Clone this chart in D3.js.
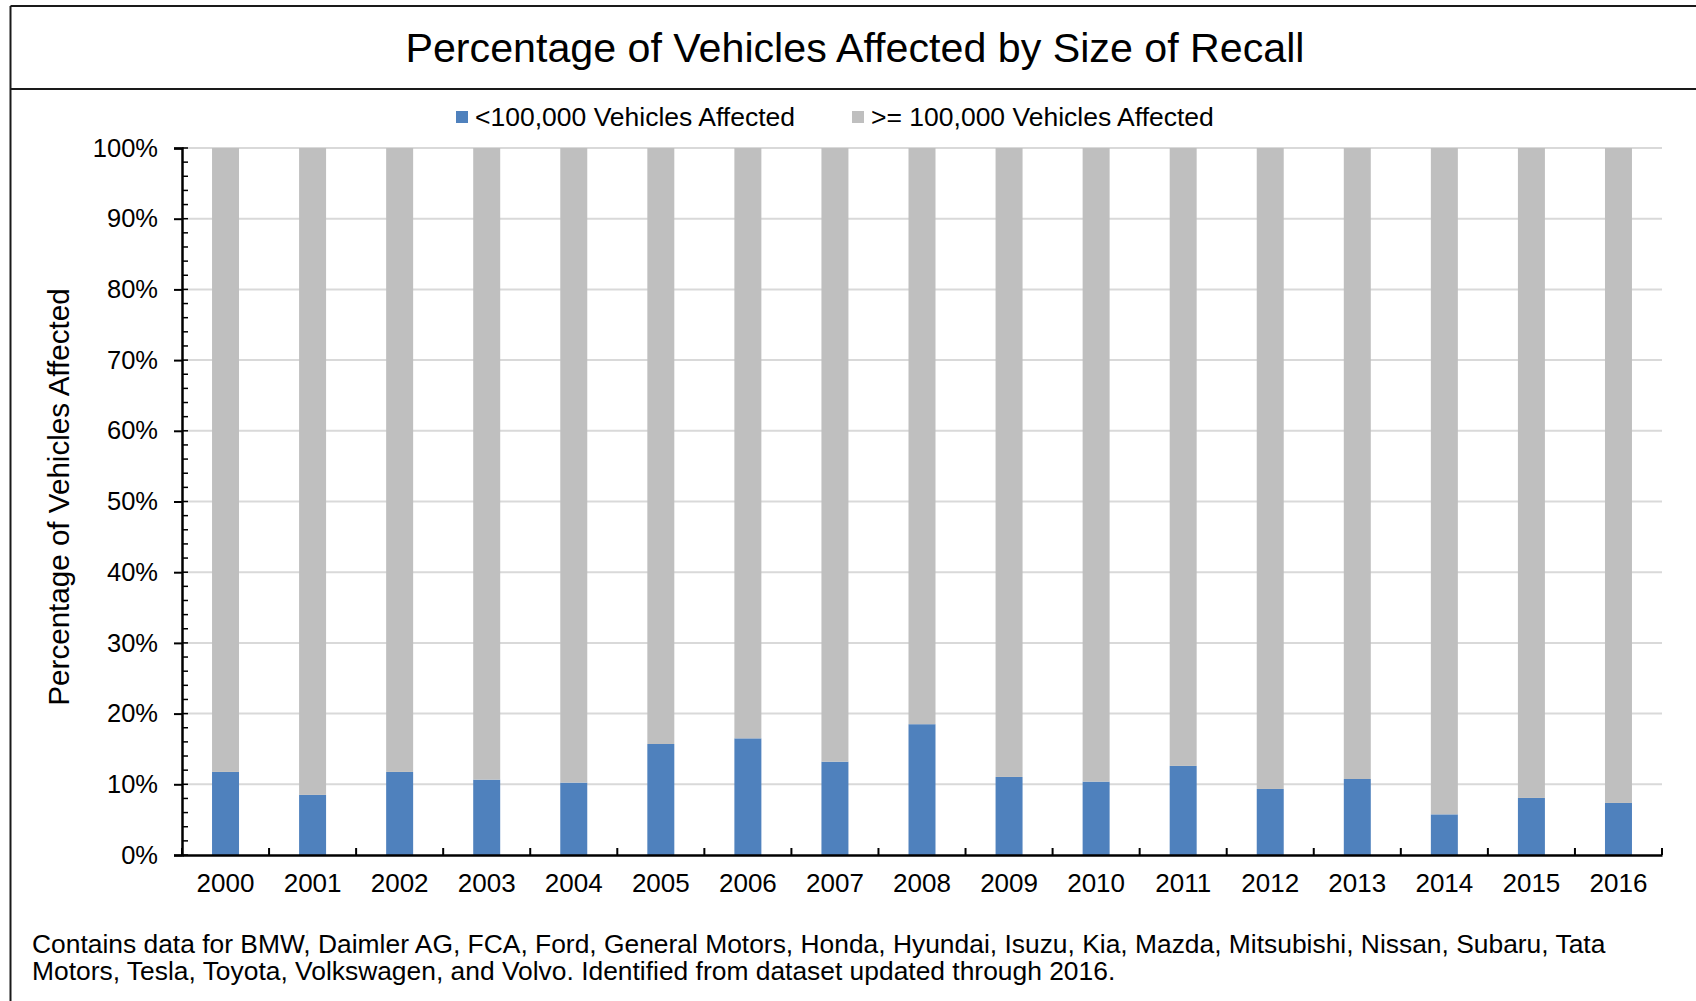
<!DOCTYPE html>
<html>
<head>
<meta charset="utf-8">
<script src="https://cdn.jsdelivr.net/npm/d3@7"></script>
<style>
  html, body { margin: 0; padding: 0; background: #fff; }
  svg { display: block; font-family: "Liberation Sans", Arial, sans-serif; }
</style>
</head>
<body>
<svg id="chart" width="1696" height="1001"></svg>
<script>
// Data
const years = ["2000", "2001", "2002", "2003", "2004", "2005", "2006", "2007", "2008",
  "2009", "2010", "2011", "2012", "2013", "2014", "2015", "2016"];
// share of vehicles in recalls of < 100,000 vehicles
const smallRecall = [0.1175, 0.085, 0.1175, 0.1066, 0.1024, 0.157, 0.165, 0.132, 0.185,
  0.1104, 0.1038, 0.126, 0.0934, 0.1075, 0.0575, 0.0807, 0.0736];
// share of vehicles in recalls of >= 100,000 vehicles
const largeRecall = smallRecall.map((v) => 1 - v);
const seriesNames = ["<100,000 Vehicles Affected", ">= 100,000 Vehicles Affected"];
const yTicks = [0, 0.1, 0.2, 0.3, 0.4, 0.5, 0.6, 0.7, 0.8, 0.9, 1];
const footnote = [
  "Contains data for BMW, Daimler AG, FCA, Ford, General Motors, Honda, Hyundai, Isuzu, Kia, Mazda, Mitsubishi, Nissan, Subaru, Tata",
  "Motors, Tesla, Toyota, Volkswagen, and Volvo. Identified from dataset updated through 2016."
];

const colors = ["#4f81bd", "#bfbfbf"];
const svg = d3.select("#chart");

const plot = { left: 182, right: 1662, top: 148, bottom: 855 };

const x = d3.scaleBand()
  .domain(years)
  .range([plot.left, plot.right])
  .paddingInner(0.69)
  .paddingOuter(0.345);

const y = d3.scaleLinear().domain([0, 1]).range([plot.bottom, plot.top]);

// frame lines
svg.append("line").attr("x1", 10.5).attr("x2", 1696).attr("y1", 6).attr("y2", 6)
  .attr("stroke", "#1a1a1a").attr("stroke-width", 2);
svg.append("line").attr("x1", 10.5).attr("x2", 1696).attr("y1", 89).attr("y2", 89)
  .attr("stroke", "#1a1a1a").attr("stroke-width", 2);
svg.append("line").attr("x1", 10.5).attr("x2", 10.5).attr("y1", 6).attr("y2", 1001)
  .attr("stroke", "#1a1a1a").attr("stroke-width", 2);

// title
svg.append("text")
  .attr("x", 855).attr("y", 62)
  .attr("text-anchor", "middle")
  .style("font-size", "41.2px")
  .attr("fill", "#000")
  .text("Percentage of Vehicles Affected by Size of Recall");

// legend
const legendPos = [456, 852];
const legend = svg.append("g").selectAll("g")
  .data(seriesNames)
  .enter()
  .append("g");
legend.append("rect")
  .attr("x", (d, i) => legendPos[i])
  .attr("y", 111)
  .attr("width", 12).attr("height", 12)
  .attr("fill", (d, i) => colors[i]);
legend.append("text")
  .attr("x", (d, i) => legendPos[i] + 19)
  .attr("y", 126)
  .style("font-size", "26.5px")
  .text((d) => d);

// gridlines
svg.append("g").selectAll("line")
  .data(yTicks.slice(1))
  .enter()
  .append("line")
  .attr("x1", plot.left).attr("x2", plot.right)
  .attr("y1", (d) => y(d)).attr("y2", (d) => y(d))
  .attr("stroke", "#d9d9d9").attr("stroke-width", 2);

// stacked bars
const rows = years.map((yr, i) => ({ year: yr, small: smallRecall[i], large: largeRecall[i] }));
const stacked = d3.stack().keys(["small", "large"])(rows);

svg.append("g").selectAll("g")
  .data(stacked)
  .enter()
  .append("g")
  .attr("fill", (d, i) => colors[i])
  .selectAll("rect")
  .data((d) => d)
  .enter()
  .append("rect")
  .attr("x", (d) => x(d.data.year))
  .attr("width", x.bandwidth())
  .attr("y", (d) => y(d[1]))
  .attr("height", (d) => y(d[0]) - y(d[1]));

// y axis
const yAxis = d3.axisLeft(y)
  .tickValues(yTicks)
  .tickFormat(d3.format(".0%"))
  .tickSize(8)
  .tickPadding(16);
const yG = svg.append("g")
  .attr("transform", `translate(${plot.left},0)`)
  .call(yAxis);
yG.select(".domain").attr("stroke", "#000").attr("stroke-width", 2.5);
yG.selectAll(".tick line").attr("stroke", "#000").attr("stroke-width", 2);
yG.selectAll(".tick text")
  .attr("fill", "#000")
  .style("font-size", "25.5px")
  .style("font-family", '"Liberation Sans", Arial, sans-serif');

// minor ticks on the inside, every 2%
const minor = d3.range(0, 51).map((d) => d / 50);
svg.append("g").selectAll("line")
  .data(minor)
  .enter()
  .append("line")
  .attr("x1", plot.left).attr("x2", plot.left + 6)
  .attr("y1", (d) => y(d)).attr("y2", (d) => y(d))
  .attr("stroke", "#000").attr("stroke-width", 1.5);

// x axis
const xAxis = d3.axisBottom(x).tickSize(0).tickPadding(18.5);
const xG = svg.append("g")
  .attr("transform", `translate(0,${plot.bottom})`)
  .call(xAxis);
xG.select(".domain").attr("stroke", "#000").attr("stroke-width", 2.5);
xG.selectAll(".tick text")
  .attr("fill", "#000")
  .style("font-size", "26px")
  .style("font-family", '"Liberation Sans", Arial, sans-serif');

// category boundary ticks pointing up
const step = x.step();
svg.append("g").selectAll("line")
  .data(d3.range(0, years.length + 1))
  .enter()
  .append("line")
  .attr("x1", (i) => plot.left + i * step).attr("x2", (i) => plot.left + i * step)
  .attr("y1", plot.bottom).attr("y2", plot.bottom - 7)
  .attr("stroke", "#000").attr("stroke-width", 2);

// y axis title
svg.append("text")
  .attr("transform", "translate(69,497) rotate(-90)")
  .attr("text-anchor", "middle")
  .style("font-size", "29.6px")
  .text("Percentage of Vehicles Affected");

// footnote
svg.append("g").selectAll("text")
  .data(footnote)
  .enter()
  .append("text")
  .attr("x", 32)
  .attr("y", (d, i) => 953 + i * 27)
  .style("font-size", "26.4px")
  .text((d) => d);
</script>
</body>
</html>
